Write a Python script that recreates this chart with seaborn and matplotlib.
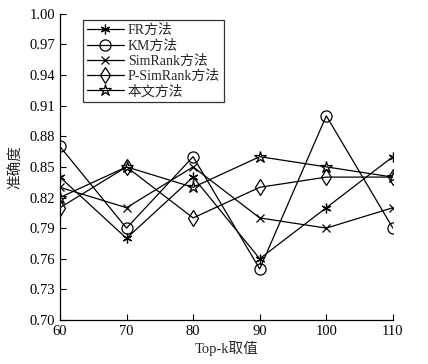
import matplotlib
matplotlib.use("Agg")
import matplotlib.pyplot as plt
import seaborn as sns
import pandas as pd

topk = [60, 70, 80, 90, 100, 110]
methods = ["FR方法", "KM方法", "SimRank方法", "P-SimRank方法", "本文方法"]
fr = [0.84, 0.78, 0.84, 0.76, 0.81, 0.86]
km = [0.87, 0.79, 0.86, 0.75, 0.90, 0.79]
simrank = [0.83, 0.81, 0.85, 0.80, 0.79, 0.81]
psimrank = [0.81, 0.85, 0.80, 0.83, 0.84, 0.84]
ours = [0.82, 0.85, 0.83, 0.86, 0.85, 0.84]
yticks = [0.70, 0.73, 0.76, 0.79, 0.82, 0.85, 0.88, 0.91, 0.94, 0.97, 1.00]

series = [fr, km, simrank, psimrank, ours]
rows = []
for m, vals in zip(methods, series):
    for k, v in zip(topk, vals):
        rows.append({"Top-k": k, "acc": v, "method": m})
df = pd.DataFrame(rows)

sns.set_theme(style="ticks")
plt.rcParams['font.family'] = ['Liberation Serif', 'Noto Sans CJK SC']
plt.rcParams['mathtext.fontset'] = 'stix'

fig = plt.figure(figsize=(4.28, 3.64), dpi=100)
ax = fig.add_axes([0.140, 0.121, 0.778, 0.841])

markers = {"FR方法": (6, 2, 0), "KM方法": "o", "SimRank方法": "x",
           "P-SimRank方法": "d", "本文方法": "*"}
sizes = {"FR方法": 7, "KM方法": 8, "SimRank方法": 5.5, "P-SimRank方法": 8, "本文方法": 9}

for m in methods:
    sub = df[df["method"] == m]
    sns.lineplot(data=sub, x="Top-k", y="acc", ax=ax, color="black",
                 linewidth=0.9, marker=markers[m], markersize=sizes[m],
                 markerfacecolor="none", markeredgecolor="black",
                 markeredgewidth=0.9, label=m)

ax.set_xlim(60, 110)
ax.set_ylim(0.70, 1.00)
ax.set_xticks(topk)
ax.set_yticks(yticks)
ax.set_yticklabels([f"{t:.2f}" for t in yticks])
ax.tick_params(direction="in", length=4, width=0.8, labelsize=10.5, colors="black")
for s in ["top", "right"]:
    ax.spines[s].set_visible(False)
for s in ["left", "bottom"]:
    ax.spines[s].set_color("black")
    ax.spines[s].set_linewidth(0.9)

ax.set_xlabel("Top-k取值", fontsize=10.5, labelpad=2)
ax.set_ylabel("准确度", fontsize=10.5, labelpad=5)

handles, labels = ax.get_legend_handles_labels()
leg = ax.legend(handles, labels, loc="upper left", bbox_to_anchor=(0.07, 0.98),
                frameon=True, fancybox=False, edgecolor="black", fontsize=10,
                handlelength=2.6, handletextpad=0.3, labelspacing=0.15,
                borderpad=0.3, borderaxespad=0.0)
leg.get_frame().set_linewidth(0.9)

fig.savefig("out.png", dpi=100)
